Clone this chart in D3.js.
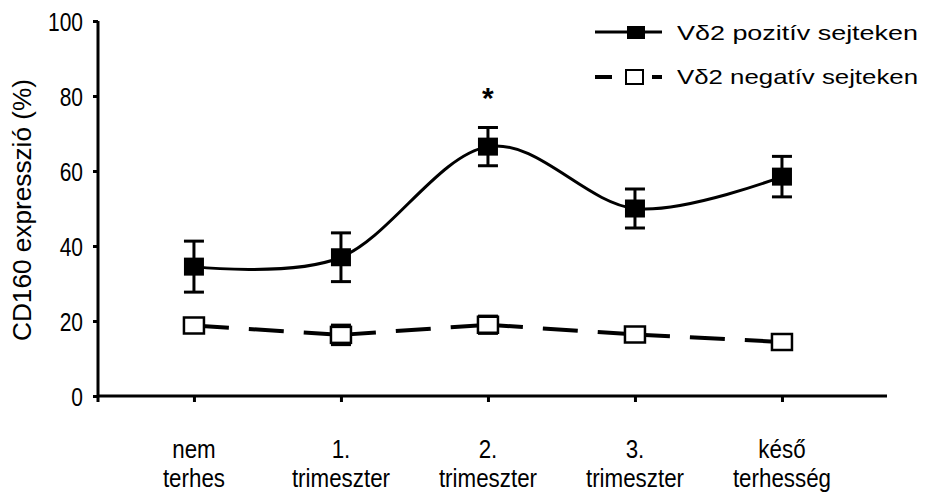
<!DOCTYPE html>
<html>
<head>
<meta charset="utf-8">
<script src="https://cdn.jsdelivr.net/npm/d3@7"></script>
<style>
  body { margin: 0; background: #fff; }
  text { font-family: "Liberation Sans", Arial, sans-serif; fill: #000; }
</style>
</head>
<body>
<div id="chart"></div>
<script>
// chart data
const categories = [["nem", "terhes"], ["1.", "trimeszter"], ["2.", "trimeszter"], ["3.", "trimeszter"], ["késő", "terhesség"]];
const posValues = [34.5, 37, 66.5, 50, 58.5];
const posErrors = [6.8, 6.5, 5.1, 5.2, 5.4];
const negValues = [18.8, 16.3, 19, 16.4, 14.4];
const negErrors = [1.5, 2.6, 2.3, 1.5, 1];
const yTicks = [0, 20, 40, 60, 80, 100];
const seriesNames = ["Vδ2 pozitív sejteken", "Vδ2 negatív sejteken"];

const width = 931, height = 497;

const svg = d3.select("#chart")
    .append("svg")
    .attr("width", width)
    .attr("height", height);

const keys = categories.map((c, i) => i);

const x = d3.scalePoint()
    .domain(keys)
    .range([97, 887])
    .padding(0.687)
    .align(0.48);

const y = d3.scaleLinear()
    .domain([0, 100])
    .range([396, 21]);

// axes
const yAxis = svg.append("g")
    .attr("transform", "translate(98,0)")
    .call(d3.axisLeft(y).tickValues(yTicks).tickSize(5).tickPadding(10));
yAxis.select(".domain").attr("stroke-width", 3).attr("d", `M0,${y(100)}V${y(0) + 6}`);
yAxis.selectAll(".tick line").attr("stroke-width", 3);
// tall, narrow digits like the original
yAxis.selectAll(".tick text")
    .style("font-size", "25px")
    .attr("dy", "0.36em")
    .attr("x", null)
    .attr("transform", "translate(-15,0) scale(0.84,1)");

const xAxis = svg.append("g")
    .attr("transform", `translate(0,${y(0)})`)
    .call(d3.axisBottom(x).tickSize(6).tickFormat(""));
xAxis.select(".domain").attr("stroke-width", 3).attr("d", `M97,0H887`);
xAxis.selectAll(".tick line").attr("stroke-width", 3);

// category labels, two lines each
const labels = svg.append("g");
categories.forEach((c, i) => {
    const t = labels.append("text")
        .attr("text-anchor", "middle")
        .attr("transform", `translate(${x(i)},0) scale(0.86,1)`)
        .style("font-size", "26px");
    t.append("tspan").attr("x", 0).attr("y", 458).text(c[0]);
    t.append("tspan").attr("x", 0).attr("y", 487).text(c[1]);
});

// y title
svg.append("text")
    .attr("transform", "translate(31,210) rotate(-90)")
    .attr("text-anchor", "middle")
    .style("font-size", "25px")
    .attr("textLength", 262)
    .attr("lengthAdjust", "spacingAndGlyphs")
    .text("CD160 expresszió (%)");

// error bars
function errorBars(vals, errs) {
    const g = svg.append("g").attr("stroke", "#000").attr("stroke-width", 3);
    vals.forEach((v, i) => {
        g.append("line").attr("x1", x(i)).attr("x2", x(i)).attr("y1", y(v + errs[i])).attr("y2", y(v - errs[i]));
        g.append("line").attr("x1", x(i) - 10).attr("x2", x(i) + 10).attr("y1", y(v + errs[i])).attr("y2", y(v + errs[i]));
        g.append("line").attr("x1", x(i) - 10).attr("x2", x(i) + 10).attr("y1", y(v - errs[i])).attr("y2", y(v - errs[i]));
    });
}

// negative series: dashed straight segments, each dash pattern starting at a point
errorBars(negValues, negErrors);
const negLines = svg.append("g").attr("stroke", "#000").attr("stroke-width", 4)
    .attr("stroke-dasharray", "35,20");
d3.pairs(keys).forEach(([a, b]) => {
    negLines.append("line")
        .attr("x1", x(a)).attr("y1", y(negValues[a]))
        .attr("x2", x(b)).attr("y2", y(negValues[b]));
});
svg.append("g").selectAll("rect")
    .data(negValues)
    .join("rect")
    .attr("x", (d, i) => x(i) - 10)
    .attr("y", d => y(d) - 8)
    .attr("width", 20)
    .attr("height", 16)
    .attr("fill", "#fff")
    .attr("stroke", "#000")
    .attr("stroke-width", 2.5);

// positive series: smooth curve
errorBars(posValues, posErrors);
const curve = d3.line()
    .x((d, i) => x(i))
    .y(d => y(d))
    .curve(d3.curveCardinal.tension(0));
svg.append("path")
    .attr("d", curve(posValues))
    .attr("fill", "none")
    .attr("stroke", "#000")
    .attr("stroke-width", 3);
svg.append("g").selectAll("rect")
    .data(posValues)
    .join("rect")
    .attr("x", (d, i) => x(i) - 10)
    .attr("y", d => y(d) - 9)
    .attr("width", 20)
    .attr("height", 18)
    .attr("fill", "#000");

// significance mark
svg.append("text")
    .attr("x", x(2))
    .attr("y", 108)
    .attr("text-anchor", "middle")
    .style("font-size", "30px")
    .style("font-weight", "bold")
    .text("*");

// legend
const legend = svg.append("g");
legend.append("line").attr("x1", 595).attr("x2", 662).attr("y1", 32).attr("y2", 32)
    .attr("stroke", "#000").attr("stroke-width", 3);
legend.append("rect").attr("x", 627).attr("y", 26).attr("width", 18).attr("height", 13).attr("fill", "#000");
legend.append("line").attr("x1", 595).attr("x2", 612).attr("y1", 77).attr("y2", 77)
    .attr("stroke", "#000").attr("stroke-width", 4);
legend.append("line").attr("x1", 652).attr("x2", 662).attr("y1", 77).attr("y2", 77)
    .attr("stroke", "#000").attr("stroke-width", 4);
legend.append("rect").attr("x", 626).attr("y", 70).attr("width", 17).attr("height", 14)
    .attr("fill", "#fff").attr("stroke", "#000").attr("stroke-width", 2);
seriesNames.forEach((name, i) => {
    legend.append("text")
        .attr("x", 677)
        .attr("y", 40 + i * 44)
        .style("font-size", "21px")
        .attr("textLength", 241)
        .attr("lengthAdjust", "spacingAndGlyphs")
        .text(name);
});
</script>
</body>
</html>
